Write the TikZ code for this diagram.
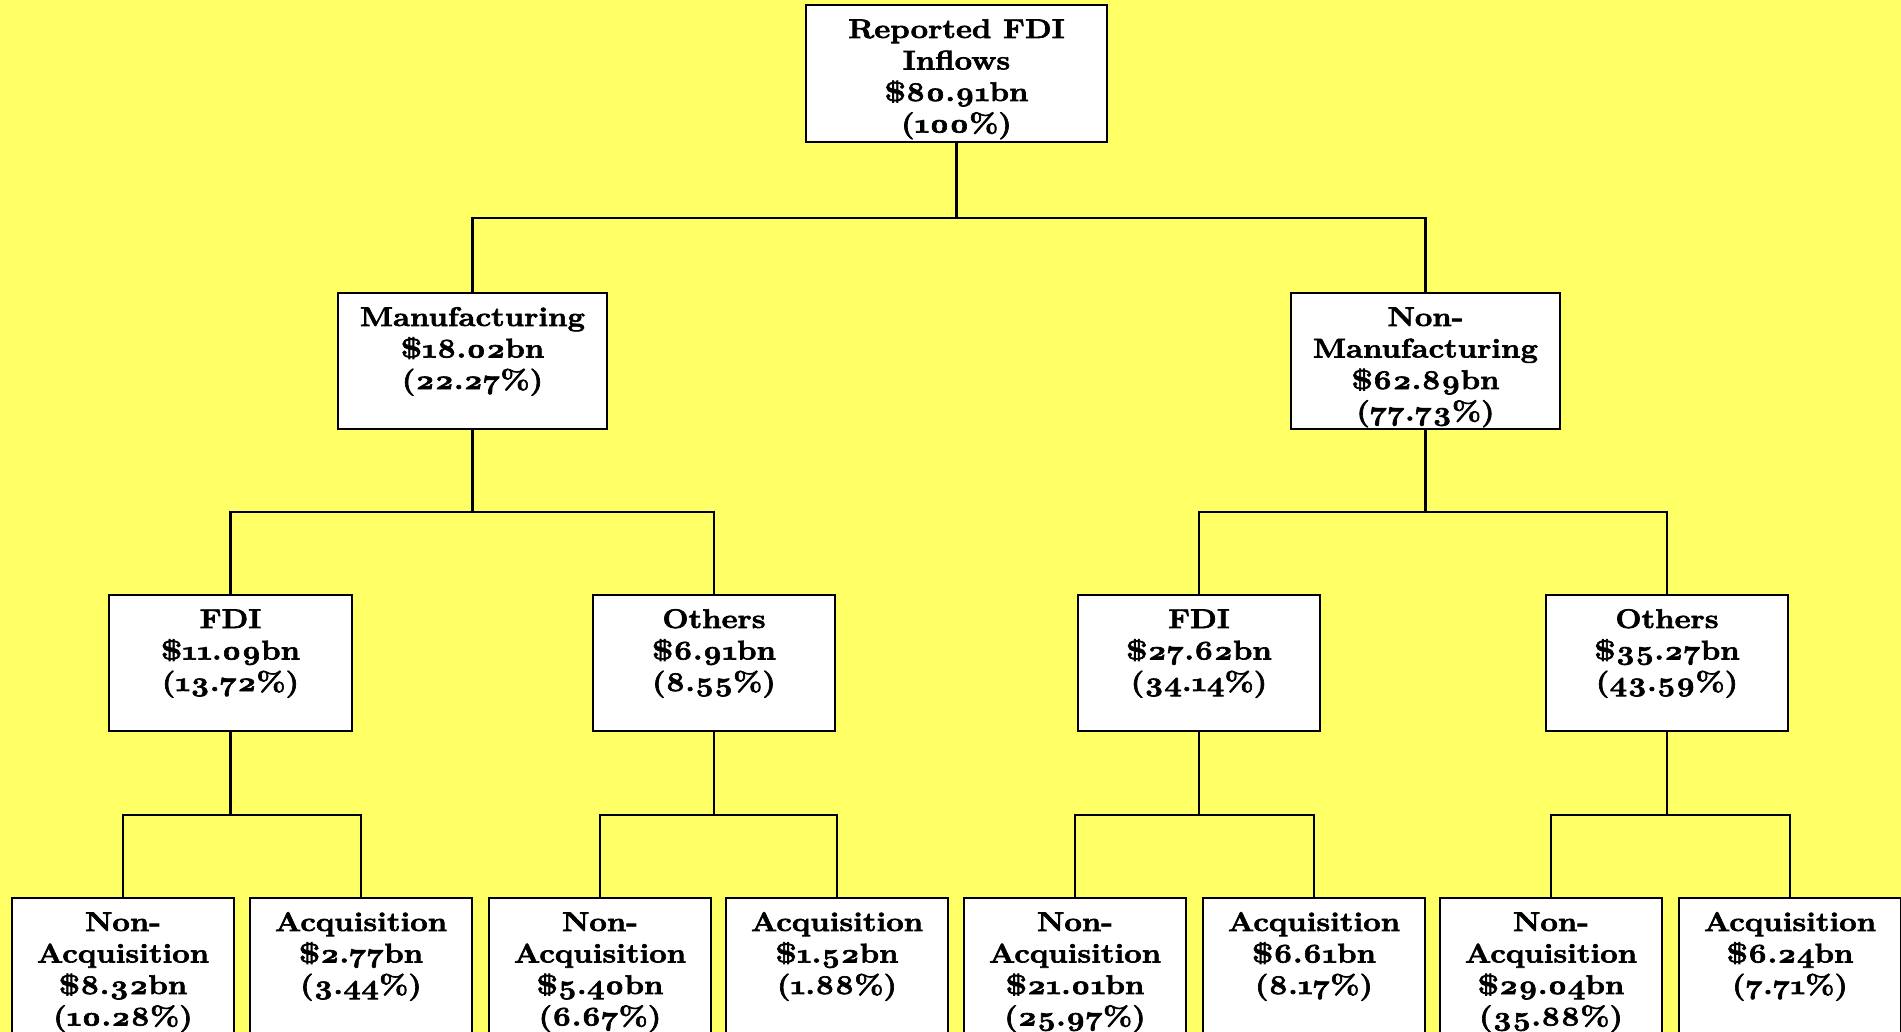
\documentclass[tikz,border=0pt]{standalone}
\usepackage{fontspec}
\setmainfont{Latin Modern Roman}[Numbers=OldStyle, BoldFeatures={FakeBold=2.4, FakeStretch=1.15}]
\definecolor{bgyellow}{RGB}{255,255,102}
\newcommand{\bxt}[3]{\parbox[c][#2pt][t]{#1pt}{\centering\rule{0pt}{33pt}#3}}
\tikzset{
  box/.style={draw=black, fill=white, line width=2.2pt, inner sep=0pt, outer sep=0pt,
    font=\fontsize{27}{31.5}\selectfont\bfseries},
  link/.style={draw=black, line width=2.2pt}
}
\begin{document}
\begin{tikzpicture}[x=1pt,y=-1pt]
\fill[bgyellow] (0,0) rectangle (1901,1032);
\useasboundingbox (0,0) rectangle (1901,1032);
% level 1
\node[box] (root) at (956.5,73.5) {\bxt{301}{137}{Reported FDI\\Inflows\\\$80.91bn\\(100\%)}};
% level 2
\node[box] (mfg) at (472.5,361) {\bxt{269}{136}{Manufacturing\\\$18.02bn\\(22.27\%)}};
\node[box] (nmfg) at (1425.5,361) {\bxt{269}{136}{Non-\\Manufacturing\\\$62.89bn\\(77.73\%)}};
% level 3
\node[box] (fdiA) at (230.5,663) {\bxt{243}{136}{FDI\\\$11.09bn\\(13.72\%)}};
\node[box] (othA) at (714,663) {\bxt{242}{136}{Others\\\$6.91bn\\(8.55\%)}};
\node[box] (fdiB) at (1199,663) {\bxt{242}{136}{FDI\\\$27.62bn\\(34.14\%)}};
\node[box] (othB) at (1667,663) {\bxt{242}{136}{Others\\\$35.27bn\\(43.59\%)}};
% level 4
\node[box] (l1) at (123,966) {\bxt{222}{136}{Non-\\Acquisition\\\$8.32bn\\(10.28\%)}};
\node[box] (l2) at (361,966) {\bxt{222}{136}{Acquisition\\\$2.77bn\\(3.44\%)}};
\node[box] (l3) at (600,966) {\bxt{222}{136}{Non-\\Acquisition\\\$5.40bn\\(6.67\%)}};
\node[box] (l4) at (837,966) {\bxt{222}{136}{Acquisition\\\$1.52bn\\(1.88\%)}};
\node[box] (l5) at (1075,966) {\bxt{222}{136}{Non-\\Acquisition\\\$21.01bn\\(25.97\%)}};
\node[box] (l6) at (1314,966) {\bxt{222}{136}{Acquisition\\\$6.61bn\\(8.17\%)}};
\node[box] (l7) at (1551,966) {\bxt{222}{136}{Non-\\Acquisition\\\$29.04bn\\(35.88\%)}};
\node[box] (l8) at (1790,966) {\bxt{222}{136}{Acquisition\\\$6.24bn\\(7.71\%)}};
% connectors
\draw[link] (root.south) -- ++(0,76);
\draw[link] (mfg.north) -- ++(0,-75) -| (nmfg.north);
\draw[link] (mfg.south) -- ++(0,83);
\draw[link] (fdiA.north) -- ++(0,-83) -| (othA.north);
\draw[link] (nmfg.south) -- ++(0,83);
\draw[link] (fdiB.north) -- ++(0,-83) -| (othB.north);
\draw[link] (fdiA.south) -- ++(0,84);
\draw[link] (l1.north) -- ++(0,-83) -| (l2.north);
\draw[link] (othA.south) -- ++(0,84);
\draw[link] (l3.north) -- ++(0,-83) -| (l4.north);
\draw[link] (fdiB.south) -- ++(0,84);
\draw[link] (l5.north) -- ++(0,-83) -| (l6.north);
\draw[link] (othB.south) -- ++(0,84);
\draw[link] (l7.north) -- ++(0,-83) -| (l8.north);
\end{tikzpicture}
\end{document}
